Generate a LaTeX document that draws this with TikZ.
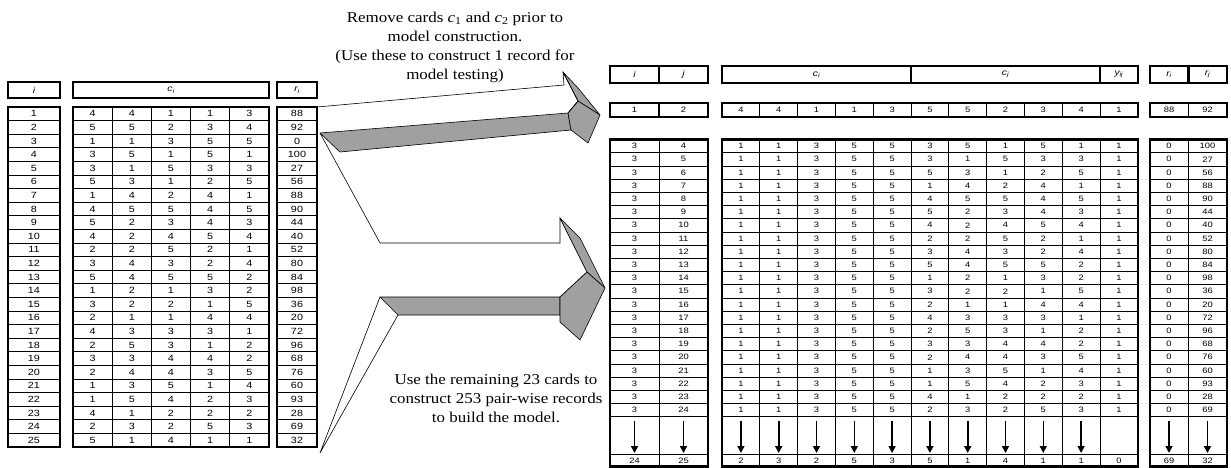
\documentclass[tikz,border=0pt]{standalone}
\usepackage{fontspec}
\setmainfont{Liberation Serif}
\setsansfont{Liberation Sans}
\newfontfamily\notefont[FakeStretch=1.13]{Liberation Serif}
\newfontfamily\cellfont[FakeStretch=1.2]{Liberation Sans}
\usetikzlibrary{arrows.meta}
\definecolor{sidegrey}{RGB}{160,160,160}

\tikzset{
  frame/.style={line width=2.8pt},
  rule/.style={line width=0.7pt},
  lnum/.style={font=\cellfont\fontsize{9}{10}\selectfont, inner sep=0pt},
  rnum/.style={font=\cellfont\fontsize{7.8}{9}\selectfont, inner sep=0pt},
  head/.style={font=\cellfont\itshape\fontsize{8.5}{10}\selectfont, inner sep=0pt},
  note/.style={font=\notefont\fontsize{15}{19}\selectfont, align=center, inner sep=0pt, anchor=north},
  face/.style={draw=black, line width=0.6pt, line join=miter},
  side/.style={draw=black, fill=sidegrey, line width=0.6pt, line join=round},
  drop/.style={-{Triangle[width=7pt,length=7pt]}, line width=1.6pt},
}

\begin{document}
\begin{tikzpicture}[x=1pt,y=-1pt]
\useasboundingbox (0,0) rectangle (1231,468);

% ---------------- card table (left) ----------------
\draw[frame] (8,82) rectangle (60,98);
\draw[frame] (73,82) rectangle (269,98);
\draw[frame] (277,82) rectangle (317,98);
\node[head] (hLi) at (34,90) {i};
\node[head] (hLc) at (171,90) {c\textsubscript{i}};
\node[head] (hLr) at (297,90) {r\textsubscript{i}};

\foreach \n in {1,...,24} {
  \pgfmathsetmacro\yy{107+\n*13.6}
  \draw[rule] (8,\yy) -- (60,\yy) (73,\yy) -- (269,\yy) (277,\yy) -- (317,\yy);
}
\foreach \m in {1,...,4} {
  \pgfmathsetmacro\xx{73+\m*39.2}
  \draw[rule] (\xx,107) -- (\xx,447);
}
\draw[frame] (8,107) rectangle (60,447);
\draw[frame] (73,107) rectangle (269,447);
\draw[frame] (277,107) rectangle (317,447);

% ---------------- pair table (right) ----------------
% header
\draw[frame] (610,66) rectangle (708,83);
\draw[frame] (659,66) -- (659,83);
\draw[frame] (722,66) rectangle (1138,83);
\draw[frame] (911,66) -- (911,83) (1100,66) -- (1100,83);
\draw[frame] (1150,66) rectangle (1227,83);
\draw[frame] (1188.5,66) -- (1188.5,83);
\node[head] (hRi) at (634.5,74.5) {i};
\node[head] (hRj) at (683.5,74.5) {j};
\node[head] (hRci) at (816.5,74.5) {c\textsubscript{i}};
\node[head] (hRcj) at (1005.5,74.5) {c\textsubscript{j}};
\node[head] (hRy) at (1118.9,74.5) {y\textsubscript{ij}};
\node[head] (hRri) at (1169,74.5) {r\textsubscript{i}};
\node[head] (hRrj) at (1207.5,74.5) {r\textsubscript{j}};

% test record
\draw[line width=1.2pt] (659,103) -- (659,117) (1188.5,103) -- (1188.5,117);
\foreach \m in {1,...,10} {
  \pgfmathsetmacro\xx{722+\m*37.8}
  \draw[rule] (\xx,103) -- (\xx,117);
}
\draw[frame] (610,103) rectangle (708,117);
\draw[frame] (722,103) rectangle (1138,117);
\draw[frame] (1150,103) rectangle (1227,117);
\node[rnum] (Ti) at (634.5,110) {1};
\node[rnum] (Tj) at (683.5,110) {2};
\foreach \v [count=\m] in {4,4,1,1,3,5,5,2,3,4,1} {
  \pgfmathsetmacro\xx{722+(\m-0.5)*37.8}
  \node[rnum] (T-c\m) at (\xx,110) {\v};
}
\node[rnum] (Tri) at (1169,110) {88};
\node[rnum] (Trj) at (1207.5,110) {92};

% training records
\foreach \n in {1,...,21} {
  \pgfmathsetmacro\yy{139.5+\n*13.2}
  \draw[rule] (610,\yy) -- (708,\yy) (722,\yy) -- (1138,\yy) (1150,\yy) -- (1227,\yy);
}
\draw[rule] (610,454.5) -- (708,454.5) (722,454.5) -- (1138,454.5) (1150,454.5) -- (1227,454.5);
\draw[rule] (659,139.5) -- (659,466.5) (1188.5,139.5) -- (1188.5,466.5);
\foreach \m in {1,...,10} {
  \pgfmathsetmacro\xx{722+\m*37.8}
  \draw[rule] (\xx,139.5) -- (\xx,466.5);
}
\draw[frame] (610,139.5) rectangle (708,466.5);
\draw[frame] (722,139.5) rectangle (1138,466.5);
\draw[frame] (1150,139.5) rectangle (1227,466.5);

% continuation arrows
\foreach \xx in {634.5,683.5,740.9,778.7,816.5,854.3,892.1,929.9,967.7,1005.5,1043.3,1081.1,1169,1207.5} {
  \draw[drop] (\xx,421) -- (\xx,453);
}

% last record
\node[rnum] (Fi) at (634.5,460.5) {24};
\node[rnum] (Fj) at (683.5,460.5) {25};
\foreach \v [count=\m] in {2,3,2,5,3,5,1,4,1,1,0} {
  \pgfmathsetmacro\xx{722+(\m-0.5)*37.8}
  \node[rnum] (F-c\m) at (\xx,460.5) {\v};
}
\node[rnum] (Fri) at (1169,460.5) {69};
\node[rnum] (Frj) at (1207.5,460.5) {32};

% ---------------- card values, and pairs (3, j) ----------------
\foreach \k/\a/\b/\c/\d/\e/\r in {
  1/4/4/1/1/3/88, 2/5/5/2/3/4/92, 3/1/1/3/5/5/0, 4/3/5/1/5/1/100,
  5/3/1/5/3/3/27, 6/5/3/1/2/5/56, 7/1/4/2/4/1/88, 8/4/5/5/4/5/90,
  9/5/2/3/4/3/44, 10/4/2/4/5/4/40, 11/2/2/5/2/1/52, 12/3/4/3/2/4/80,
  13/5/4/5/5/2/84, 14/1/2/1/3/2/98, 15/3/2/2/1/5/36, 16/2/1/1/4/4/20,
  17/4/3/3/3/1/72, 18/2/5/3/1/2/96, 19/3/3/4/4/2/68, 20/2/4/4/3/5/76,
  21/1/3/5/1/4/60, 22/1/5/4/2/3/93, 23/4/1/2/2/2/28, 24/2/3/2/5/3/69,
  25/5/1/4/1/1/32} {
  \pgfmathsetmacro\yy{107+(\k-0.5)*13.6}
  \node[lnum] (L\k) at (34,\yy) {\k};
  \foreach \v [count=\m] in {\a,\b,\c,\d,\e} {
    \pgfmathsetmacro\xx{73+(\m-0.5)*39.2}
    \node[lnum] (L\k-c\m) at (\xx,\yy) {\v};
  }
  \node[lnum] (L\k-r) at (297,\yy) {\r};
  \ifnum\k>3 \ifnum\k<25
    \pgfmathsetmacro\ry{139.5+(\k-3.5)*13.2}
    \node[rnum] (R\k-i) at (634.5,\ry) {3};
    \node[rnum] (R\k-j) at (683.5,\ry) {\k};
    \foreach \v [count=\m] in {1,1,3,5,5,\a,\b,\c,\d,\e,1} {
      \pgfmathsetmacro\xx{722+(\m-0.5)*37.8}
      \node[rnum] (R\k-c\m) at (\xx,\ry) {\v};
    }
    \node[rnum] (R\k-ri) at (1169,\ry) {0};
    \node[rnum] (R\k-rj) at (1207.5,\ry) {\r};
  \fi\fi
}

% ---------------- 3-D block arrows ----------------
% upper arrow: cards 1 and 2 to the test record
\draw[side] (320,133) -- (568,113) -- (571,130) -- (340,152) -- cycle;
\draw[side] (563,72) -- (578,88) -- (600,115) -- (578,101) -- cycle;
\draw[side] (578,101) -- (600,115) -- (588,143) -- (571,130) -- (568,113) -- cycle;
\draw[face] (317,107) -- (564,85) -- (563,72) -- (578,101) -- (568,113);

% lower arrow: cards 3 to 25 to the training records
\draw[face] (320,133) -- (380,243) -- (560,243) -- (560,218) -- (587,272) -- (560,297);
\draw[face] (380,297) -- (320,453) -- (398,315);
\draw[side] (380,297) -- (560,297) -- (560,315) -- (398,315) -- cycle;
\draw[side] (560,218) -- (580,238) -- (605,288) -- (587,272) -- cycle;
\draw[side] (587,272) -- (605,288) -- (580,340) -- (560,322) -- (560,297) -- cycle;

% ---------------- notes ----------------
\node[note] (noteTest) at (455,12) {Remove cards \textit{c}\textsubscript{1} and \textit{c}\textsubscript{2} prior to\\
  model construction.\\(Use these to construct 1 record for\\model testing)};
\node[note] (noteTrain) at (496,374) {Use the remaining 23 cards to\\
  construct 253 pair-wise records\\to build the model.};

\end{tikzpicture}
\end{document}
